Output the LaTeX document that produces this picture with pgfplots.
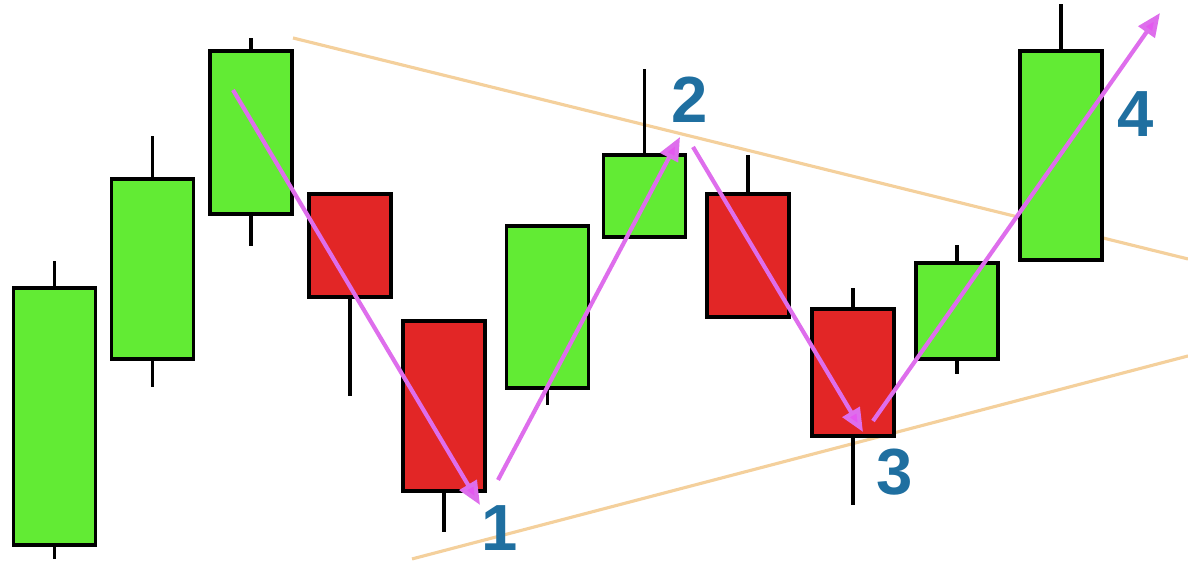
\documentclass[border=0pt]{standalone}
\usepackage{fontspec}
\setmainfont{Liberation Sans}
\usepackage{pgfplots}
\pgfplotsset{compat=1.18}
\usepgfplotslibrary{statistics}
\usetikzlibrary{arrows.meta}

\definecolor{bullgreen}{RGB}{98,235,52}
\definecolor{bearred}{RGB}{226,38,38}
\definecolor{trendtan}{RGB}{244,208,156}
\definecolor{swing}{RGB}{222,110,236}
\definecolor{labelblue}{RGB}{31,111,160}

\begin{document}
\begin{tikzpicture}[
    num/.style={labelblue, inner sep=0pt, font=\fontsize{25}{30}\selectfont\bfseries},
]
\begin{axis}[
    width=16cm,
    height=7.582cm,
    scale only axis,
    xmin=0, xmax=1188,
    ymin=0, ymax=563,
    axis line style={draw=none},
    xtick=\empty, ytick=\empty,
    boxplot/draw direction=y,
    boxplot/box extend=82,
    boxplot/every whisker/.style={line width=1.4pt},
    boxplot/draw/median/.code={},
    boxplot/draw/lower whisker/.code={%
        \draw[/pgfplots/boxplot/every whisker/.try]
            (boxplot box cs:\pgfplotsboxplotvalue{lower whisker},0.5) --
            (boxplot box cs:\pgfplotsboxplotvalue{lower quartile},0.5);},
    boxplot/draw/upper whisker/.code={%
        \draw[/pgfplots/boxplot/every whisker/.try]
            (boxplot box cs:\pgfplotsboxplotvalue{upper quartile},0.5) --
            (boxplot box cs:\pgfplotsboxplotvalue{upper whisker},0.5);},
    bull/.style={draw=black, fill=bullgreen, line width=1.25pt},
    bear/.style={draw=black, fill=bearred, line width=1.25pt},
    trend/.style={trendtan, line width=1.2pt},
    move/.style={swing, line width=1.6pt,
        -{Triangle[length=9pt, width=7.5pt, fill=swing!80!magenta]}},
]
% trend lines
\addplot[trend] coordinates {(293,525) (1188,304)};
\addplot[trend] coordinates {(412,4) (1188,207)};

% candles: low, body bottom, body top, high
\addplot[bull, boxplot prepared={draw position=54.5, lower whisker=4, lower quartile=18, median=18, upper quartile=275, upper whisker=302}] coordinates {};
\addplot[bull, boxplot prepared={draw position=152.5, lower whisker=176, lower quartile=204, median=204, upper quartile=384, upper whisker=427}] coordinates {};
\addplot[bull, boxplot prepared={draw position=251, lower whisker=317, lower quartile=349, median=349, upper quartile=512, upper whisker=525}] coordinates {};
\addplot[bear, boxplot prepared={draw position=350, lower whisker=167, lower quartile=266, median=266, upper quartile=369, upper whisker=369}] coordinates {};
\addplot[bear, boxplot prepared={draw position=444, lower whisker=31, lower quartile=72, median=72, upper quartile=242, upper whisker=242}] coordinates {};
\addplot[bull, boxplot prepared={draw position=547.5, lower whisker=158, lower quartile=175, median=175, upper quartile=337, upper whisker=337}] coordinates {};
\addplot[bull, boxplot prepared={draw position=644.5, lower whisker=326, lower quartile=326, median=326, upper quartile=408, upper whisker=494}] coordinates {};
\addplot[bear, boxplot prepared={draw position=748, lower whisker=246, lower quartile=246, median=246, upper quartile=369, upper whisker=408}] coordinates {};
\addplot[bear, boxplot prepared={draw position=853, lower whisker=58, lower quartile=127, median=127, upper quartile=254, upper whisker=275}] coordinates {};
\addplot[bull, boxplot prepared={draw position=957, lower whisker=189, lower quartile=204, median=204, upper quartile=300, upper whisker=318}] coordinates {};
\addplot[bull, boxplot prepared={draw position=1061, lower whisker=303, lower quartile=303, median=303, upper quartile=512, upper whisker=559}] coordinates {};

% swing moves
\addplot[move] coordinates {(233,473) (480,58)};
\addplot[move] coordinates {(498,83) (680,426)};
\addplot[move] coordinates {(693,416) (863,131)};
\addplot[move] coordinates {(873,142) (1160,550)};

\node[num] at (axis cs:500,35) {1};
\node[num] at (axis cs:690,463) {2};
\node[num] at (axis cs:895,91) {3};
\node[num] at (axis cs:1136,449) {4};
\end{axis}
\end{tikzpicture}
\end{document}
